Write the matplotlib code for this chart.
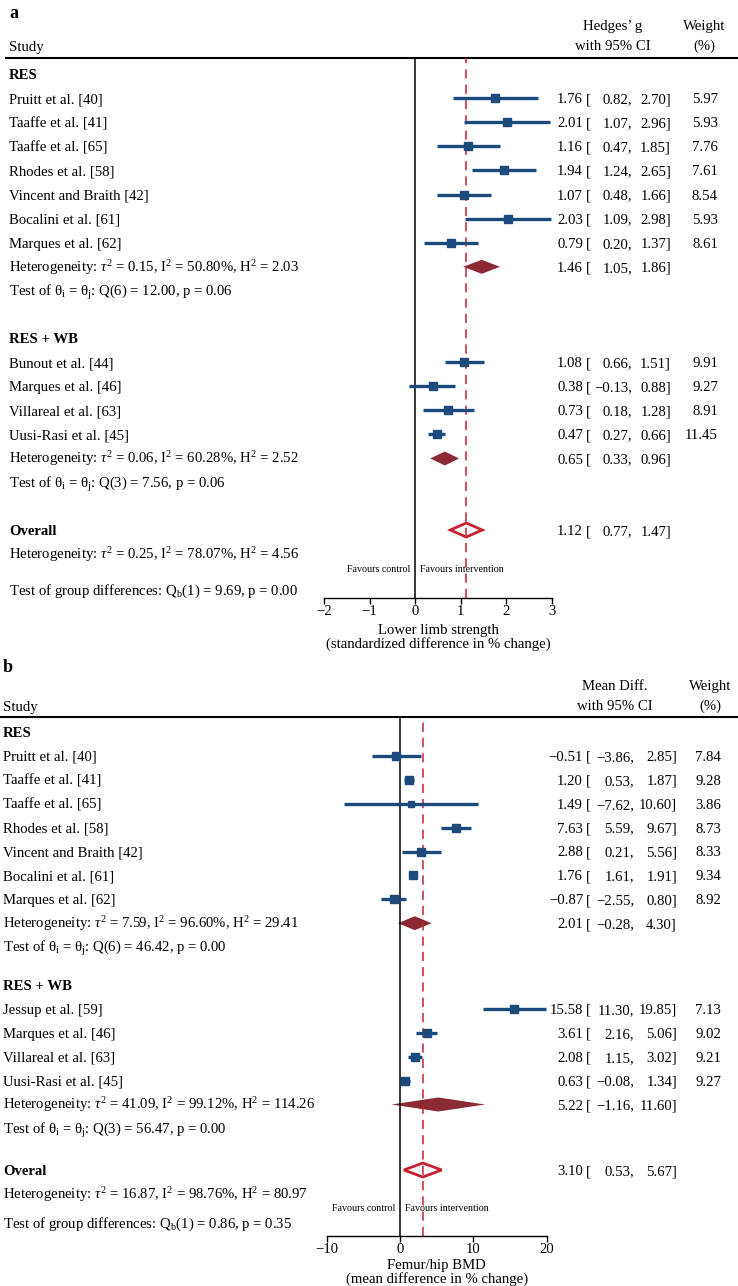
import matplotlib.pyplot as plt

plt.rcParams['font.family'] = ['Liberation Serif', 'DejaVu Serif']
plt.rcParams['mathtext.fontset'] = 'custom'
plt.rcParams['mathtext.rm'] = 'Liberation Serif'
plt.rcParams['mathtext.it'] = 'Liberation Serif:italic'
plt.rcParams['mathtext.bf'] = 'Liberation Serif:bold'

# ---- panel a: lower limb strength (Hedges' g) ----
a_res_names = ["Pruitt et al. [40]", "Taaffe et al. [41]", "Taaffe et al. [65]", "Rhodes et al. [58]",
               "Vincent and Braith [42]", "Bocalini et al. [61]", "Marques et al. [62]"]
a_res_es = [1.76, 2.01, 1.16, 1.94, 1.07, 2.03, 0.79]
a_res_lo = [0.82, 1.07, 0.47, 1.24, 0.48, 1.09, 0.20]
a_res_hi = [2.70, 2.96, 1.85, 2.65, 1.66, 2.98, 1.37]
a_res_w = [5.97, 5.93, 7.76, 7.61, 8.54, 5.93, 8.61]
a_res_sum = [1.46, 1.05, 1.86]
a_res_het = r"Heterogeneity: $\tau^2$ = 0.15, I$^2$ = 50.80%, H$^2$ = 2.03"
a_res_test = r"Test of θ$_\mathrm{i}$ = θ$_\mathrm{j}$: Q(6) = 12.00, p = 0.06"

a_wb_names = ["Bunout et al. [44]", "Marques et al. [46]", "Villareal et al. [63]", "Uusi-Rasi et al. [45]"]
a_wb_es = [1.08, 0.38, 0.73, 0.47]
a_wb_lo = [0.66, -0.13, 0.18, 0.27]
a_wb_hi = [1.51, 0.88, 1.28, 0.66]
a_wb_w = [9.91, 9.27, 8.91, 11.45]
a_wb_sum = [0.65, 0.33, 0.96]
a_wb_het = r"Heterogeneity: $\tau^2$ = 0.06, I$^2$ = 60.28%, H$^2$ = 2.52"
a_wb_test = r"Test of θ$_\mathrm{i}$ = θ$_\mathrm{j}$: Q(3) = 7.56, p = 0.06"

a_overall = [1.12, 0.77, 1.47]
a_overall_label = "Overall"
a_overall_het = r"Heterogeneity: $\tau^2$ = 0.25, I$^2$ = 78.07%, H$^2$ = 4.56"
a_group_test = r"Test of group differences: Q$_\mathrm{b}$(1) = 9.69, p = 0.00"
a_ticks = [-2, -1, 0, 1, 2, 3]
a_xlabel = ["Lower limb strength", "(standardized difference in % change)"]
a_header = ["Hedges’ g", "with 95% CI"]

# ---- panel b: femur/hip BMD (mean difference) ----
b_res_names = a_res_names
b_res_es = [-0.51, 1.20, 1.49, 7.63, 2.88, 1.76, -0.87]
b_res_lo = [-3.86, 0.53, -7.62, 5.59, 0.21, 1.61, -2.55]
b_res_hi = [2.85, 1.87, 10.60, 9.67, 5.56, 1.91, 0.80]
b_res_w = [7.84, 9.28, 3.86, 8.73, 8.33, 9.34, 8.92]
b_res_sum = [2.01, -0.28, 4.30]
b_res_het = r"Heterogeneity: $\tau^2$ = 7.59, I$^2$ = 96.60%, H$^2$ = 29.41"
b_res_test = r"Test of θ$_\mathrm{i}$ = θ$_\mathrm{j}$: Q(6) = 46.42, p = 0.00"

b_wb_names = ["Jessup et al. [59]", "Marques et al. [46]", "Villareal et al. [63]", "Uusi-Rasi et al. [45]"]
b_wb_es = [15.58, 3.61, 2.08, 0.63]
b_wb_lo = [11.30, 2.16, 1.15, -0.08]
b_wb_hi = [19.85, 5.06, 3.02, 1.34]
b_wb_w = [7.13, 9.02, 9.21, 9.27]
b_wb_sum = [5.22, -1.16, 11.60]
b_wb_het = r"Heterogeneity: $\tau^2$ = 41.09, I$^2$ = 99.12%, H$^2$ = 114.26"
b_wb_test = r"Test of θ$_\mathrm{i}$ = θ$_\mathrm{j}$: Q(3) = 56.47, p = 0.00"

b_overall = [3.10, 0.53, 5.67]
b_overall_label = "Overal"
b_overall_het = r"Heterogeneity: $\tau^2$ = 16.87, I$^2$ = 98.76%, H$^2$ = 80.97"
b_group_test = r"Test of group differences: Q$_\mathrm{b}$(1) = 0.86, p = 0.35"
b_ticks = [-10, 0, 10, 20]
b_xlabel = ["Femur/hip BMD", "(mean difference in % change)"]
b_header = ["Mean Diff.", "with 95% CI"]

W, H = 738, 1286
BLUE = "#1c4a7a"
DARKRED = "#8b2a34"
RED = "#c8202f"
FS = 10.6


def fmt(v):
    return f"{v:.2f}".replace("-", "\u2212")


fig = plt.figure(figsize=(W / 100, H / 100), dpi=100)
ov = fig.add_axes([0, 0, 1, 1])
ov.set_xlim(0, W)
ov.set_ylim(H, 0)
ov.axis("off")


def txt(x, y, s, **kw):
    kw.setdefault("fontsize", FS)
    ov.text(x, y + 5, s, va="baseline", **kw)


def panel(letter, lay, header, groups, overall, overall_label, overall_het, group_test, ticks, xlabel):
    xl, xr = lay["xl"], lay["xr"]
    top, bot = lay["top"], lay["axis"]
    lx = lay["lx"]
    ax = fig.add_axes([xl / W, 1 - bot / H, (xr - xl) / W, (bot - top) / H])
    ax.set_xlim(ticks[0], ticks[-1])
    ax.set_ylim(bot, top)
    ax.patch.set_alpha(0)
    for s in ["top", "left", "right"]:
        ax.spines[s].set_visible(False)
    ax.spines["bottom"].set_linewidth(1.0)
    ax.set_yticks([])
    ax.set_xticks(ticks)
    ax.tick_params(axis="x", direction="out", length=4, width=1.0, pad=1.0, labelsize=FS)
    ax.axvline(0, color="black", lw=1.1)
    ax.axvline(overall[0], color=RED, lw=1.1, ls=(0, (6, 4)))

    # header
    txt(lx, lay["letter"], letter, fontsize=13, fontweight="bold")
    txt(lx, lay["h2"] + 1, "Study")
    txt(lay["est_c"], lay["h1"], header[0], ha="center")
    txt(lay["est_c"], lay["h2"], header[1], ha="center")
    txt(lay["w_c"], lay["h1"], "Weight", ha="center")
    txt(lay["w_c"], lay["h2"], "(%)", ha="center")
    ov.plot([lay["line_x0"], W], [top, top], color="black", lw=1.5)

    step = lay["step"]

    def est_text(y, es, lo, hi, w=None):
        txt(lay["c_es"], y, fmt(es), ha="right")
        txt(lay["c_es"] + 3, y, "[")
        txt(lay["c_lo"], y, fmt(lo) + ",", ha="right")
        txt(lay["c_hi"], y, fmt(hi) + "]", ha="right")
        if w is not None:
            txt(lay["c_w"], y, f"{w:.2f}", ha="right")

    for gy, (title, names, es, lo, hi, w, summ, het, test) in zip(lay["groups"], groups):
        txt(lx, gy, title, fontweight="bold")
        for i, (n, e, l, h, ww) in enumerate(zip(names, es, lo, hi, w)):
            y = gy + step * (i + 1)
            txt(lx, y, n)
            ax.hlines(y, l, h, color=BLUE, lw=2.4, clip_on=False)
            ax.plot(e, y, marker="s", ms=(6.2 + 0.2 * ww) * 0.72, color=BLUE, mec=BLUE, clip_on=False)
            est_text(y, e, l, h, ww)
        y = gy + step * (len(names) + 1)
        txt(lx, y, het)
        ax.fill([summ[1], summ[0], summ[2], summ[0]], [y, y - 7, y, y + 7], color=DARKRED, lw=0, clip_on=False)
        est_text(y, *summ)
        txt(lx, gy + step * (len(names) + 2), test)

    oy = lay["overall"]
    txt(lx, oy, overall_label, fontweight="bold")
    ax.fill([overall[1], overall[0], overall[2], overall[0]], [oy, oy - 7, oy, oy + 7],
            facecolor="white", edgecolor=RED, lw=2.0, clip_on=False)
    est_text(oy, *overall)
    txt(lx, oy + step, overall_het)
    txt(lay["zero_px"] - 5, lay["fav"], "Favours control", ha="right", fontsize=7.2)
    txt(lay["zero_px"] + 5, lay["fav"], "Favours intervention", ha="left", fontsize=7.2)
    txt(lx, lay["gtest"], group_test)
    cx = (xl + xr) / 2
    txt(cx, lay["xl1"] + 1, xlabel[0], ha="center", fontsize=FS)
    txt(cx, lay["xl1"] + 15, xlabel[1], ha="center", fontsize=FS)


lay_a = dict(xl=324, xr=552, top=58, axis=598, lx=9, letter=13, h1=25, h2=45, line_x0=6,
             est_c=613, w_c=704, step=24.1, groups=[74, 338], overall=530, fav=567, gtest=590,
             zero_px=415, xl1=628, c_es=583, c_lo=632, c_hi=671, c_w=718)
lay_b = dict(xl=326.7, xr=546.7, top=717, axis=1236, lx=3, letter=667, h1=685, h2=705, line_x0=0,
             est_c=615, w_c=710, step=23.9, groups=[732, 985], overall=1170, fav=1206, gtest=1223,
             zero_px=400, xl1=1263, c_es=583, c_lo=634, c_hi=677, c_w=721)

panel("a", lay_a, a_header,
      [("RES", a_res_names, a_res_es, a_res_lo, a_res_hi, a_res_w, a_res_sum, a_res_het, a_res_test),
       ("RES + WB", a_wb_names, a_wb_es, a_wb_lo, a_wb_hi, a_wb_w, a_wb_sum, a_wb_het, a_wb_test)],
      a_overall, a_overall_label, a_overall_het, a_group_test, a_ticks, a_xlabel)
panel("b", lay_b, b_header,
      [("RES", b_res_names, b_res_es, b_res_lo, b_res_hi, b_res_w, b_res_sum, b_res_het, b_res_test),
       ("RES + WB", b_wb_names, b_wb_es, b_wb_lo, b_wb_hi, b_wb_w, b_wb_sum, b_wb_het, b_wb_test)],
      b_overall, b_overall_label, b_overall_het, b_group_test, b_ticks, b_xlabel)

fig.savefig("out.png", dpi=100)
